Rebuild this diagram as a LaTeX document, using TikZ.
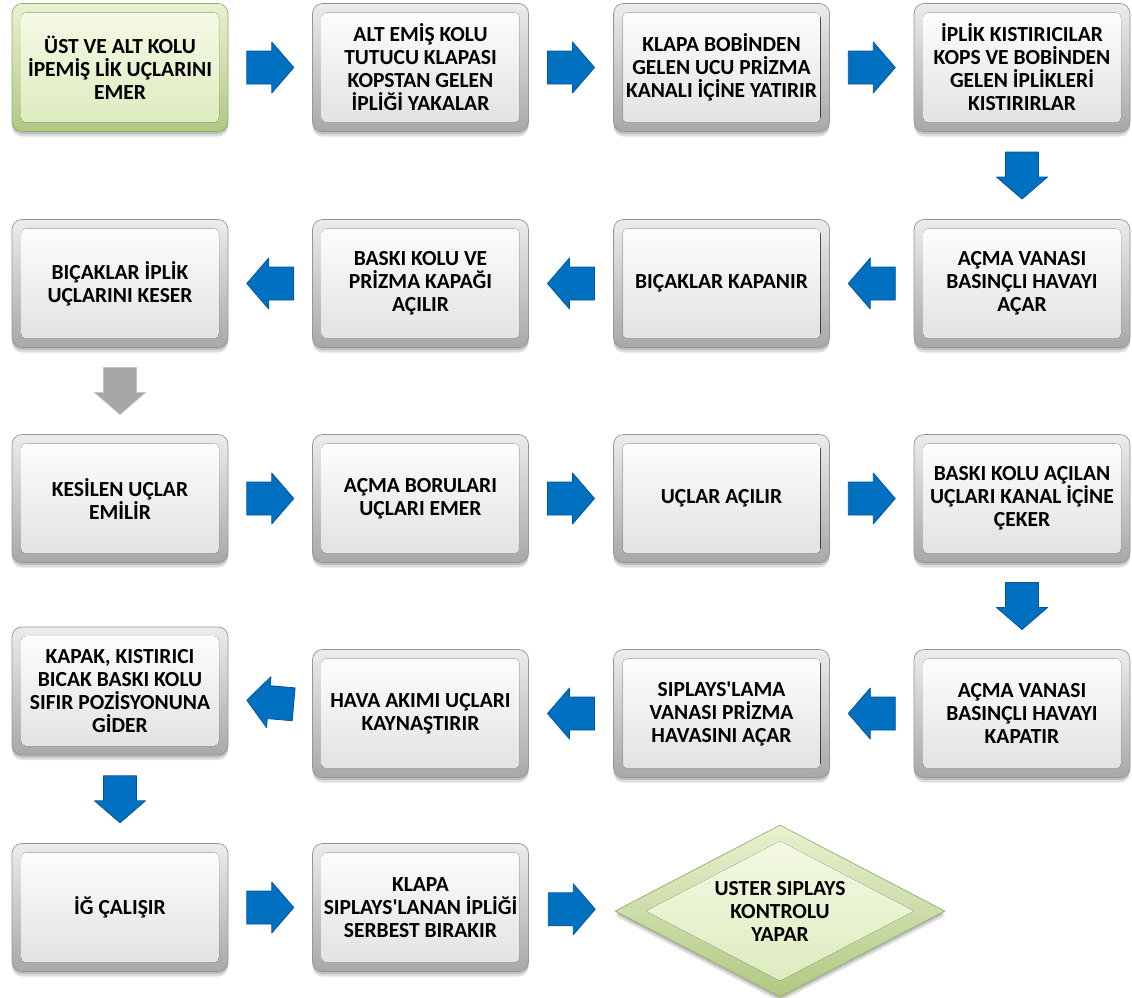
\documentclass[tikz,border=0pt]{standalone}
\usepackage{fontspec}
\setmainfont{Carlito}
\usetikzlibrary{shapes.geometric,shadows,calc}

% palette
\definecolor{rimtop}{RGB}{236,236,236}
\definecolor{rimbot}{RGB}{168,168,168}
\definecolor{facetop}{RGB}{255,255,255}
\definecolor{facebot}{RGB}{224,224,224}
\definecolor{boxedge}{RGB}{150,150,150}
\definecolor{grimtop}{RGB}{232,242,208}
\definecolor{grimbot}{RGB}{176,200,130}
\definecolor{gfacetop}{RGB}{246,251,232}
\definecolor{gfacebot}{RGB}{220,234,188}
\definecolor{gedge}{RGB}{150,172,110}
\definecolor{flowblue}{RGB}{0,112,192}
\definecolor{flowblueedge}{RGB}{0,86,160}
\definecolor{flowgray}{RGB}{166,166,166}
\definecolor{flowgrayedge}{RGB}{196,196,196}

\tikzset{
  boxtext/.style={align=center, font=\bfseries\fontsize{21.5}{23}\selectfont, text=black},
  softshadow/.style={
    drop shadow={shadow xshift=0pt, shadow yshift=-5pt, opacity=0.12, fill=black},
    drop shadow={shadow xshift=0pt, shadow yshift=-2.5pt, opacity=0.15, fill=black}},
  bevelface/.style n args={3}{path picture={
    \fill[rounded corners=5pt, top color=#1, bottom color=#2]
      ([xshift=#3,yshift=-#3]path picture bounding box.north west) rectangle
      ([xshift=-#3,yshift=#3]path picture bounding box.south east);}},
  stepbox/.style={rectangle, rounded corners=10pt, minimum width=216pt,
    minimum height=128pt, inner sep=0pt, boxtext, draw=boxedge, line width=0.7pt,
    top color=rimtop, bottom color=rimbot, softshadow,
    bevelface={facetop}{facebot}{9pt}},
  startbox/.style={stepbox, draw=gedge, top color=grimtop, bottom color=grimbot,
    bevelface={gfacetop}{gfacebot}{9pt}},
  checkbox/.style={diamond, minimum width=330pt, minimum height=172pt, aspect=1.92,
    inner sep=0pt, boxtext, draw=gedge, line width=0.7pt,
    top color=grimtop, bottom color=grimbot, softshadow,
    path picture={
      \fill[top color=gfacetop, bottom color=gfacebot]
        ([yshift=-16pt]path picture bounding box.north) --
        ([xshift=-31pt]path picture bounding box.east) --
        ([yshift=16pt]path picture bounding box.south) --
        ([xshift=31pt]path picture bounding box.west) -- cycle;}},
  bluearrow/.style={fill=flowblue, draw=flowblueedge, line width=0.8pt, line join=round},
  grayarrow/.style={fill=flowgray, draw=flowgrayedge, line width=0.8pt, line join=round}
}

% block arrow centred on a coordinate, pointing along the given angle
\newcommand{\blockarrow}[3]{%
  \begin{scope}[shift={(#1)}, rotate=#2]
    \path[#3] (-23.5pt,-16.5pt) -- (1.5pt,-16.5pt) -- (1.5pt,-25.5pt) --
      (23.5pt,0pt) -- (1.5pt,25.5pt) -- (1.5pt,16.5pt) -- (-23.5pt,16.5pt) -- cycle;
  \end{scope}}

\begin{document}
\begin{tikzpicture}[x=1pt, y=-1pt]
  \fill[white] (0,0) rectangle (1132,997);
  \useasboundingbox (0,0) rectangle (1132,997);

  % row 1
  \node[startbox] (b1) at (120,67.5) {ÜST VE ALT KOLU\\İPEMİŞ LİK UÇLARINI\\EMER};
  \node[stepbox] (b2) at (420.5,67.5) {ALT EMİŞ KOLU\\TUTUCU KLAPASI\\KOPSTAN GELEN\\İPLİĞİ YAKALAR};
  \node[stepbox] (b3) at (721.5,67.5) {KLAPA BOBİNDEN\\GELEN UCU PRİZMA\\KANALI İÇİNE YATIRIR};
  \node[stepbox] (b4) at (1022,67.5) {İPLİK KISTIRICILAR\\KOPS VE BOBİNDEN\\GELEN İPLİKLERİ\\KISTIRIRLAR};

  % row 2
  \node[stepbox] (b5) at (1022,283.5) {AÇMA VANASI\\BASINÇLI HAVAYI\\AÇAR};
  \node[stepbox] (b6) at (721.5,283.5) {BIÇAKLAR KAPANIR};
  \node[stepbox] (b7) at (420.5,283.5) {BASKI KOLU VE\\PRİZMA KAPAĞI\\AÇILIR};
  \node[stepbox] (b8) at (120,283.5) {BIÇAKLAR İPLİK\\UÇLARINI KESER};

  % row 3
  \node[stepbox] (b9) at (120,498.5) {KESİLEN UÇLAR\\EMİLİR};
  \node[stepbox] (b10) at (420.5,498.5) {AÇMA BORULARI\\UÇLARI EMER};
  \node[stepbox] (b11) at (721.5,498.5) {UÇLAR AÇILIR};
  \node[stepbox] (b12) at (1022,498.5) {BASKI KOLU AÇILAN\\UÇLARI KANAL İÇİNE\\ÇEKER};

  % row 4
  \node[stepbox] (b13) at (1022,713.5) {AÇMA VANASI\\BASINÇLI HAVAYI\\KAPATIR};
  \node[stepbox] (b14) at (721.5,713.5) {SIPLAYS\textquotesingle LAMA\\VANASI PRİZMA\\HAVASINI AÇAR};
  \node[stepbox] (b15) at (420.5,713.5) {HAVA AKIMI UÇLARI\\KAYNAŞTIRIR};
  \node[stepbox] (b16) at (120,691) {KAPAK, KISTIRICI\\BICAK BASKI KOLU\\SIFIR POZİSYONUNA\\GİDER};

  % row 5
  \node[stepbox] (b17) at (120,907.5) {İĞ ÇALIŞIR};
  \node[stepbox] (b18) at (420.5,907.5) {KLAPA\\SIPLAYS\textquotesingle LANAN İPLİĞİ\\SERBEST BIRAKIR};
  \node[checkbox] (d1) at (780,911) {USTER SIPLAYS\\KONTROLU\\YAPAR};

  % arrow positions between consecutive steps
  \coordinate (a1)  at ($(b1.east)!0.5!(b2.west)$);
  \coordinate (a2)  at ($(b2.east)!0.5!(b3.west)$);
  \coordinate (a3)  at ($(b3.east)!0.5!(b4.west)$);
  \coordinate (a4)  at ($(b4.south)!0.5!(b5.north)$);
  \coordinate (a5)  at ($(b5.west)!0.5!(b6.east)$);
  \coordinate (a6)  at ($(b6.west)!0.5!(b7.east)$);
  \coordinate (a7)  at ($(b7.west)!0.5!(b8.east)$);
  \coordinate (a8)  at ($(b8.south)!0.5!(b9.north)$);
  \coordinate (a9)  at ($(b9.east)!0.5!(b10.west)$);
  \coordinate (a10) at ($(b10.east)!0.5!(b11.west)$);
  \coordinate (a11) at ($(b11.east)!0.5!(b12.west)$);
  \coordinate (a12) at ($(b12.south)!0.5!(b13.north)$);
  \coordinate (a13) at ($(b13.west)!0.5!(b14.east)$);
  \coordinate (a14) at ($(b14.west)!0.5!(b15.east)$);
  \coordinate (a15) at ($(b15.west)!0.5!(b16.east)$);
  \coordinate (a16) at ($(b16.south)!0.5!(b17.north)$);
  \coordinate (a17) at ($(b17.east)!0.5!(b18.west)$);
  \coordinate (a18) at ($(b18.east)!0.5!(d1.west)$);

  \blockarrow{a1}{0}{bluearrow}
  \blockarrow{a2}{0}{bluearrow}
  \blockarrow{a3}{0}{bluearrow}
  \blockarrow{a4}{-90}{bluearrow}
  \blockarrow{a5}{180}{bluearrow}
  \blockarrow{a6}{180}{bluearrow}
  \blockarrow{a7}{180}{bluearrow}
  \blockarrow{a8}{-90}{grayarrow}
  \blockarrow{a9}{0}{bluearrow}
  \blockarrow{a10}{0}{bluearrow}
  \blockarrow{a11}{0}{bluearrow}
  \blockarrow{a12}{-90}{bluearrow}
  \blockarrow{a13}{180}{bluearrow}
  \blockarrow{a14}{180}{bluearrow}
  \blockarrow{a15}{175}{bluearrow}
  \blockarrow{a16}{-90}{bluearrow}
  \blockarrow{a17}{0}{bluearrow}
  \blockarrow{a18}{0}{bluearrow}
\end{tikzpicture}
\end{document}
